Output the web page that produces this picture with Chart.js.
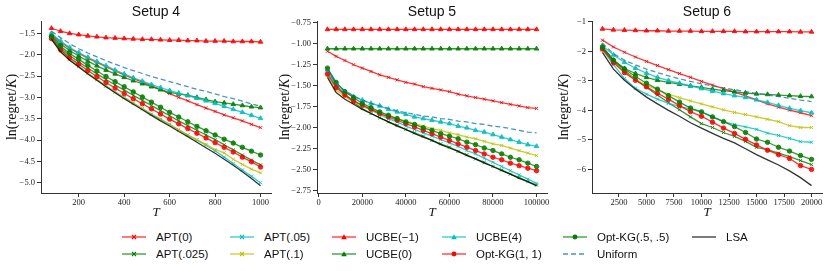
<!DOCTYPE html>
<html>
<head>
<meta charset="utf-8">
<script src="https://cdn.jsdelivr.net/npm/chart.js@4.4.0/dist/chart.umd.min.js"></script>
<style>
  html, body { margin: 0; padding: 0; background: #fff; }
  #wrap { position: relative; width: 830px; height: 271px; overflow: hidden; }
  #wrap canvas { position: absolute; top: 0; }
  #legend { position: absolute; left: 0; top: 0; font-family: "Liberation Sans", Arial, sans-serif; font-size: 11.5px; color: #111; }
  .item { position: absolute; display: flex; align-items: center; height: 14px; white-space: nowrap; }
  .item svg { margin-right: 10px; }
</style>
</head>
<body>
<div id="wrap">
  <canvas id="c4" width="280" height="230" style="left:0px"></canvas>
  <canvas id="c5" width="280" height="230" style="left:275px"></canvas>
  <canvas id="c6" width="280" height="230" style="left:550px"></canvas>
  <div id="legend"></div>
</div>
<script>
// ---- series names (legend order) ----
const LABELS = ['APT(0)', 'APT(.025)', 'APT(.05)', 'APT(.1)', 'UCBE(\u22121)', 'UCBE(0)', 'UCBE(4)',
                'Opt-KG(1, 1)', 'Opt-KG(.5, .5)', 'Uniform', 'LSA'];

// ---- Setup 4 ----
const T4 = [80,120,160,200,240,280,320,360,400,440,480,520,560,600,640,680,720,760,800,840,880,920,960,1000];
const APT0_4   = [-1.52,-1.70,-1.85,-1.97,-2.08,-2.18,-2.28,-2.38,-2.47,-2.56,-2.64,-2.73,-2.82,-2.91,-3.00,-3.08,-3.17,-3.25,-3.33,-3.41,-3.48,-3.55,-3.63,-3.71];
const APT025_4 = [-1.60,-1.84,-2.02,-2.17,-2.31,-2.45,-2.58,-2.71,-2.83,-2.95,-3.07,-3.19,-3.31,-3.43,-3.55,-3.66,-3.77,-3.88,-3.99,-4.11,-4.23,-4.35,-4.47,-4.58];
const APT05_4  = [-1.56,-1.88,-2.10,-2.27,-2.43,-2.58,-2.73,-2.87,-3.00,-3.13,-3.26,-3.39,-3.51,-3.63,-3.76,-3.88,-4.00,-4.12,-4.25,-4.40,-4.55,-4.70,-4.85,-5.00];
const APT1_4   = [-1.62,-1.92,-2.12,-2.28,-2.44,-2.59,-2.74,-2.88,-3.01,-3.14,-3.27,-3.40,-3.52,-3.64,-3.76,-3.88,-3.99,-4.10,-4.22,-4.30,-4.45,-4.57,-4.68,-4.77];
const UCBEm1_4 = [-1.38,-1.45,-1.50,-1.53,-1.56,-1.58,-1.60,-1.61,-1.62,-1.63,-1.64,-1.64,-1.65,-1.66,-1.66,-1.67,-1.67,-1.68,-1.68,-1.68,-1.69,-1.69,-1.69,-1.70];
const UCBE0_4  = [-1.55,-1.75,-1.90,-2.03,-2.15,-2.26,-2.36,-2.45,-2.53,-2.61,-2.68,-2.75,-2.82,-2.88,-2.92,-2.95,-3.00,-3.05,-3.10,-3.13,-3.16,-3.19,-3.22,-3.24];
const UCBE4_4  = [-1.50,-1.68,-1.83,-1.95,-2.06,-2.16,-2.26,-2.36,-2.45,-2.54,-2.62,-2.70,-2.77,-2.84,-2.90,-2.96,-3.02,-3.08,-3.14,-3.21,-3.28,-3.35,-3.42,-3.49];
const KG11_4   = [-1.62,-1.88,-2.07,-2.22,-2.37,-2.51,-2.65,-2.78,-2.91,-3.03,-3.15,-3.27,-3.39,-3.51,-3.62,-3.73,-3.84,-3.95,-4.06,-4.17,-4.28,-4.40,-4.51,-4.63];
const KG55_4   = [-1.57,-1.80,-1.97,-2.11,-2.25,-2.38,-2.51,-2.63,-2.75,-2.87,-2.99,-3.11,-3.23,-3.35,-3.46,-3.57,-3.68,-3.78,-3.88,-3.98,-4.07,-4.17,-4.26,-4.35];
const UNI_4    = [-1.45,-1.60,-1.74,-1.86,-1.96,-2.05,-2.14,-2.22,-2.30,-2.37,-2.44,-2.51,-2.57,-2.63,-2.69,-2.75,-2.81,-2.86,-2.92,-2.98,-3.03,-3.09,-3.15,-3.21];
const LSA_4    = [-1.64,-1.93,-2.13,-2.29,-2.45,-2.60,-2.75,-2.89,-3.03,-3.16,-3.29,-3.42,-3.55,-3.67,-3.80,-3.92,-4.05,-4.18,-4.31,-4.45,-4.59,-4.74,-4.90,-5.07];
const XTICKS_4 = [200, 400, 600, 800, 1000];
const YTICKS_4 = [-1.5, -2.0, -2.5, -3.0, -3.5, -4.0, -4.5, -5.0];

// ---- Setup 5 ----
const T5 = [4000,8000,12000,16000,20000,24000,28000,32000,36000,40000,44000,48000,52000,56000,60000,64000,68000,72000,76000,80000,84000,88000,92000,96000,100000];
const APT0_5   = [-1.09,-1.15,-1.20,-1.25,-1.29,-1.33,-1.37,-1.40,-1.43,-1.46,-1.48,-1.51,-1.53,-1.55,-1.57,-1.60,-1.62,-1.64,-1.66,-1.68,-1.70,-1.72,-1.74,-1.76,-1.77];
const APT025_5 = [-1.30,-1.49,-1.61,-1.70,-1.77,-1.83,-1.88,-1.93,-1.97,-2.02,-2.06,-2.10,-2.15,-2.19,-2.23,-2.28,-2.32,-2.37,-2.41,-2.46,-2.50,-2.55,-2.59,-2.64,-2.68];
const APT05_5  = [-1.34,-1.50,-1.60,-1.68,-1.74,-1.79,-1.84,-1.89,-1.93,-1.98,-2.02,-2.06,-2.10,-2.14,-2.18,-2.22,-2.27,-2.31,-2.36,-2.41,-2.46,-2.51,-2.56,-2.61,-2.66];
const APT1_5   = [-1.38,-1.55,-1.63,-1.69,-1.74,-1.78,-1.82,-1.86,-1.89,-1.92,-1.95,-1.98,-2.01,-2.03,-2.06,-2.08,-2.11,-2.13,-2.16,-2.19,-2.21,-2.24,-2.27,-2.30,-2.33];
const UCBEm1_5 = [-0.83,-0.83,-0.83,-0.83,-0.83,-0.83,-0.83,-0.83,-0.83,-0.83,-0.83,-0.83,-0.83,-0.83,-0.83,-0.83,-0.83,-0.83,-0.83,-0.83,-0.83,-0.83,-0.83,-0.83,-0.83];
const UCBE0_5  = [-1.06,-1.06,-1.06,-1.06,-1.06,-1.06,-1.06,-1.06,-1.06,-1.06,-1.06,-1.06,-1.06,-1.06,-1.06,-1.06,-1.06,-1.06,-1.06,-1.06,-1.06,-1.06,-1.06,-1.06,-1.06];
const UCBE4_5  = [-1.31,-1.47,-1.57,-1.63,-1.67,-1.71,-1.74,-1.78,-1.81,-1.84,-1.87,-1.89,-1.91,-1.93,-1.95,-1.98,-2.00,-2.03,-2.05,-2.08,-2.11,-2.14,-2.17,-2.20,-2.22];
const KG11_5   = [-1.36,-1.52,-1.61,-1.68,-1.73,-1.78,-1.83,-1.87,-1.91,-1.95,-1.99,-2.03,-2.07,-2.11,-2.15,-2.19,-2.23,-2.27,-2.31,-2.35,-2.38,-2.42,-2.45,-2.48,-2.51];
const KG55_5   = [-1.29,-1.46,-1.57,-1.64,-1.71,-1.76,-1.81,-1.85,-1.89,-1.93,-1.96,-2.00,-2.03,-2.07,-2.10,-2.13,-2.17,-2.20,-2.24,-2.27,-2.31,-2.35,-2.38,-2.42,-2.46];
const UNI_5    = [-1.30,-1.47,-1.56,-1.62,-1.67,-1.71,-1.74,-1.77,-1.80,-1.82,-1.84,-1.86,-1.87,-1.89,-1.90,-1.92,-1.93,-1.95,-1.96,-1.98,-1.99,-2.01,-2.03,-2.05,-2.06];
const LSA_5    = [-1.40,-1.58,-1.66,-1.72,-1.78,-1.83,-1.88,-1.93,-1.98,-2.02,-2.07,-2.11,-2.15,-2.20,-2.24,-2.28,-2.33,-2.37,-2.42,-2.46,-2.51,-2.55,-2.60,-2.64,-2.69];
const XTICKS_5 = [0, 20000, 40000, 60000, 80000, 100000];
const YTICKS_5 = [-0.75, -1.00, -1.25, -1.50, -1.75, -2.00, -2.25, -2.50, -2.75];

// ---- Setup 6 ----
const T6 = [1000,2000,3000,4000,5000,6000,7000,8000,9000,10000,11000,12000,13000,14000,15000,16000,17000,18000,19000,20000];
const APT0_6   = [-1.62,-1.85,-2.03,-2.19,-2.34,-2.48,-2.62,-2.75,-2.88,-3.02,-3.14,-3.26,-3.38,-3.51,-3.64,-3.78,-3.89,-3.99,-4.08,-4.18];
const APT025_6 = [-1.90,-2.32,-2.65,-2.95,-3.22,-3.48,-3.74,-3.98,-4.22,-4.45,-4.58,-4.75,-4.88,-5.05,-5.25,-5.33,-5.45,-5.57,-5.70,-5.84];
const APT05_6  = [-1.95,-2.45,-2.92,-3.25,-3.45,-3.62,-3.76,-3.86,-3.96,-4.06,-4.22,-4.38,-4.48,-4.56,-4.64,-4.77,-4.85,-4.95,-5.06,-5.08];
const APT1_6   = [-1.95,-2.35,-2.70,-2.95,-3.15,-3.30,-3.45,-3.57,-3.68,-3.78,-3.88,-3.98,-4.07,-4.14,-4.22,-4.30,-4.38,-4.52,-4.58,-4.58];
const UCBEm1_6 = [-1.24,-1.27,-1.28,-1.29,-1.30,-1.30,-1.31,-1.31,-1.31,-1.32,-1.32,-1.32,-1.32,-1.33,-1.33,-1.33,-1.33,-1.33,-1.34,-1.34];
const UCBE0_6  = [-1.85,-2.30,-2.58,-2.75,-2.88,-2.98,-3.05,-3.11,-3.17,-3.22,-3.28,-3.33,-3.37,-3.41,-3.44,-3.46,-3.48,-3.50,-3.52,-3.53];
const UCBE4_6  = [-1.80,-2.12,-2.37,-2.57,-2.74,-2.88,-2.99,-3.08,-3.17,-3.26,-3.35,-3.43,-3.50,-3.56,-3.64,-3.73,-3.83,-3.93,-4.01,-4.08];
const KG11_6   = [-1.92,-2.38,-2.72,-2.98,-3.20,-3.42,-3.62,-3.84,-4.04,-4.20,-4.40,-4.60,-4.78,-4.98,-5.17,-5.35,-5.50,-5.63,-5.87,-6.00];
const KG55_6   = [-1.85,-2.30,-2.60,-2.85,-3.08,-3.28,-3.50,-3.72,-3.92,-4.05,-4.22,-4.38,-4.55,-4.75,-4.97,-5.08,-5.25,-5.38,-5.53,-5.66];
const UNI_6    = [-1.72,-2.08,-2.30,-2.46,-2.60,-2.72,-2.83,-2.93,-3.02,-3.10,-3.17,-3.24,-3.30,-3.36,-3.42,-3.48,-3.53,-3.59,-3.65,-3.70];
const LSA_6    = [-2.03,-2.60,-2.98,-3.28,-3.55,-3.78,-4.00,-4.20,-4.42,-4.60,-4.78,-4.95,-5.10,-5.30,-5.50,-5.68,-5.85,-6.05,-6.28,-6.55];
const XTICKS_6 = [2500, 5000, 7500, 10000, 12500, 15000, 17500, 20000];
const YTICKS_6 = [-1, -2, -3, -4, -5, -6];

// ---- look of each series (same order as LABELS) ----
const RED = '255,0,0', GREEN = '0,128,0', CYAN = '0,191,191', YELLOW = '191,191,0';
const STYLES = [
  { rgb: RED,    marker: 'crossRot' },
  { rgb: GREEN,  marker: 'crossRot' },
  { rgb: CYAN,   marker: 'crossRot' },
  { rgb: YELLOW, marker: 'crossRot' },
  { rgb: RED,    marker: 'triangle' },
  { rgb: GREEN,  marker: 'triangle' },
  { rgb: CYAN,   marker: 'triangle' },
  { rgb: RED,    marker: 'circle' },
  { rgb: GREEN,  marker: 'circle' },
  { rgb: '31,119,180', marker: false, dash: [5, 3] },
  { rgb: '0,0,0', marker: false }
];
const RADIUS = { crossRot: 2.2, triangle: 2.6, circle: 2.2 };

// draws panel title, axis labels (with italic K / T)
const panelText = {
  id: 'panelText',
  afterDraw(chart, args, opts) {
    const { ctx, chartArea: a } = chart;
    const cx = (a.left + a.right) / 2;
    ctx.save();
    ctx.fillStyle = '#111';
    ctx.textBaseline = 'middle';
    ctx.textAlign = 'center';
    ctx.font = '14px "Liberation Sans", Arial, sans-serif';
    ctx.fillText(opts.title, cx, 12);
    ctx.font = 'italic 13px "Liberation Serif", serif';
    ctx.fillText('T', cx, 213);

    // y label, rotated
    const parts = [['ln(regret/', ''], ['K', 'italic '], [')', '']];
    const fs = '14px "Liberation Serif", serif';
    let total = 0;
    parts.forEach(p => { ctx.font = p[1] + fs; total += ctx.measureText(p[0]).width; });
    ctx.translate(opts.ylabelX, (a.top + a.bottom) / 2);
    ctx.rotate(-Math.PI / 2);
    ctx.textAlign = 'left';
    let x = -total / 2;
    parts.forEach(p => {
      ctx.font = p[1] + fs;
      ctx.fillText(p[0], x, 0);
      x += ctx.measureText(p[0]).width;
    });
    ctx.restore();
  }
};

const tickFont = { family: '"Liberation Serif", serif', size: 8.5 };
const axisColor = '#333';

function makePanel(id, cfg) {
  const datasets = cfg.series.map((ys, i) => {
    const s = STYLES[i];
    return {
      label: LABELS[i],
      data: ys.map((y, k) => ({ x: cfg.t[k], y: y })),
      borderColor: 'rgba(' + s.rgb + ',0.8)',
      borderWidth: 1.3,
      borderDash: s.dash || [],
      pointStyle: s.marker || 'circle',
      pointRadius: s.marker ? RADIUS[s.marker] : 0,
      pointBackgroundColor: 'rgba(' + s.rgb + ',0.85)',
      pointBorderColor: 'rgba(' + s.rgb + ',0.85)',
      pointBorderWidth: 1,
      tension: 0,
      order: LABELS.length - i
    };
  });

  new Chart(document.getElementById(id), {
    type: 'line',
    data: { datasets },
    plugins: [panelText],
    options: {
      responsive: false,
      animation: false,
      events: [],
      layout: { padding: { top: 21, right: cfg.padRight, left: 0, bottom: 0 } },
      plugins: {
        legend: { display: false },
        tooltip: { enabled: false },
        panelText: { title: cfg.title, ylabelX: cfg.ylabelX }
      },
      scales: {
        x: {
          type: 'linear',
          min: cfg.xmin, max: cfg.xmax,
          afterBuildTicks: sc => { sc.ticks = cfg.xticks.map(v => ({ value: v })); },
          afterFit: sc => { sc.height = 37; },
          ticks: { font: tickFont, color: '#222', maxRotation: 0, autoSkip: false, padding: 1,
                   callback: v => String(v) },
          grid: { drawOnChartArea: false, drawTicks: true, tickLength: 4, color: axisColor, lineWidth: 1 },
          border: { color: axisColor, width: 1 }
        },
        y: {
          min: cfg.ymin, max: cfg.ymax,
          afterBuildTicks: sc => { sc.ticks = cfg.yticks.map(v => ({ value: v })); },
          afterFit: sc => { sc.width = cfg.yWidth; },
          ticks: { font: tickFont, color: '#222', padding: 2, autoSkip: false,
                   callback: v => (v < 0 ? '\u2212' : '') + Math.abs(v).toFixed(cfg.decimals) },
          grid: { drawOnChartArea: false, drawTicks: true, tickLength: 4, color: axisColor, lineWidth: 1 },
          border: { color: axisColor, width: 1 }
        }
      }
    }
  });
}

makePanel('c4', {
  title: 'Setup 4', t: T4, xticks: XTICKS_4, yticks: YTICKS_4, decimals: 1,
  series: [APT0_4, APT025_4, APT05_4, APT1_4, UCBEm1_4, UCBE0_4, UCBE4_4, KG11_4, KG55_4, UNI_4, LSA_4],
  xmin: 34, xmax: 1046, ymin: -5.24, ymax: -1.21,
  yWidth: 41, padRight: 9, ylabelX: 12
});
makePanel('c5', {
  title: 'Setup 5', t: T5, xticks: XTICKS_5, yticks: YTICKS_5, decimals: 2,
  series: [APT0_5, APT025_5, APT05_5, APT1_5, UCBEm1_5, UCBE0_5, UCBE4_5, KG11_5, KG55_5, UNI_5, LSA_5],
  xmin: -800, xmax: 104800, ymin: -2.775, ymax: -0.73,
  yWidth: 42, padRight: 8, ylabelX: 10
});
makePanel('c6', {
  title: 'Setup 6', t: T6, xticks: XTICKS_6, yticks: YTICKS_6, decimals: 0,
  series: [APT0_6, APT025_6, APT05_6, APT1_6, UCBEm1_6, UCBE0_6, UCBE4_6, KG11_6, KG55_6, UNI_6, LSA_6],
  xmin: 50, xmax: 20950, ymin: -6.8, ymax: -0.97,
  yWidth: 42, padRight: 8, ylabelX: 14
});

// ---- legend: 6 columns x 2 rows, filled column by column ----
const LEG_COLS = [122, 230, 332, 442, 563, 692];
const LEG_ROWS = [237, 254];
function glyph(s) {
  const c = 'rgb(' + s.rgb + ')';
  let m = '';
  if (s.marker === 'crossRot') m = `<path d="M10 3 L14 7 M14 3 L10 7" stroke="${c}" stroke-width="1.1"/>`;
  if (s.marker === 'triangle') m = `<path d="M12 2.2 L14.8 7.3 L9.2 7.3 Z" fill="${c}"/>`;
  if (s.marker === 'circle') m = `<circle cx="12" cy="5" r="2.4" fill="${c}"/>`;
  const dash = s.dash ? ` stroke-dasharray="${s.dash.join(' ')}"` : '';
  return `<svg width="24" height="10" viewBox="0 0 24 10"><line x1="0" y1="5" x2="24" y2="5" stroke="rgba(${s.rgb},0.8)" stroke-width="1.3"${dash}/>${m}</svg>`;
}
const legend = document.getElementById('legend');
LABELS.forEach((name, i) => {
  const el = document.createElement('div');
  el.className = 'item';
  el.style.left = LEG_COLS[Math.floor(i / 2)] + 'px';
  el.style.top = (LEG_ROWS[i % 2] - 7) + 'px';
  el.innerHTML = glyph(STYLES[i]) + '<span>' + name + '</span>';
  legend.appendChild(el);
});
</script>
</body>
</html>
